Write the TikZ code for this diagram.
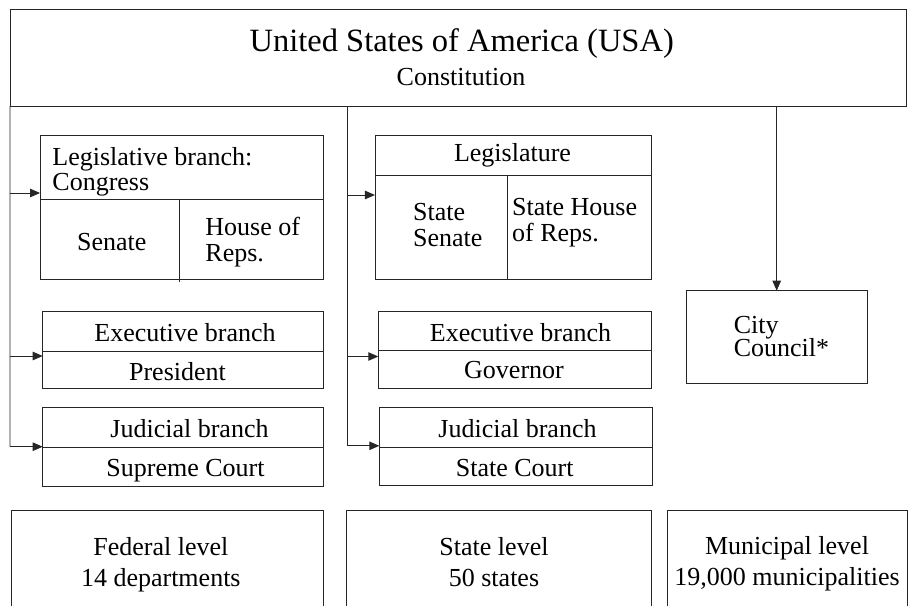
\documentclass[tikz,border=0pt]{standalone}
\usepackage{fontspec}
\setmainfont{Liberation Serif}
\usetikzlibrary{arrows.meta}
\begin{document}
\begin{tikzpicture}[x=1pt,y=-1pt,line width=0.9pt,
  box/.style={draw=black!85,rectangle,inner sep=0pt,outer sep=0pt},
  txt/.style={inner sep=0pt,anchor=base,font=\fontsize{26}{26}\selectfont},
  txtl/.style={txt,anchor=base west},
  big/.style={inner sep=0pt,anchor=base,font=\fontsize{32.5}{32.5}\selectfont},
  rule/.style={draw=black!85},
  link/.style={draw=black!85,-{Triangle[length=10pt,width=8.5pt]}}]

\useasboundingbox (0,0) rectangle (910,605);
\clip (0,0) rectangle (910,605);

% ---- boxes ----
\node[box,minimum width=896.7pt,minimum height=96.7pt] (top) at (458.3,57.7) {};
\node[box,minimum width=283.3pt,minimum height=144pt] (leg) at (181.7,207) {};
\node[box,minimum width=276.7pt,minimum height=143.3pt] (sleg) at (513.3,207.3) {};
\node[box,minimum width=280.6pt,minimum height=76.6pt] (fexe) at (183,350) {};
\node[box,minimum width=280.6pt,minimum height=78.7pt] (fjud) at (183,446.7) {};
\node[box,minimum width=273.4pt,minimum height=76.6pt] (sexe) at (515,350) {};
\node[box,minimum width=273pt,minimum height=78.4pt] (sjud) at (515.8,446.5) {};
\node[box,minimum width=181.3pt,minimum height=92.6pt] (city) at (776.7,337) {};
\node[box,minimum width=311.6pt,minimum height=109.3pt] (fed) at (167.5,565.4) {};
\node[box,minimum width=305pt,minimum height=109.3pt] (state) at (499.2,565.4) {};
\node[box,minimum width=240pt,minimum height=109.3pt] (muni) at (787.3,565.4) {};

% ---- inner dividers ----
\draw[rule] (leg.west |- 0,199) -- (leg.east |- 0,199);
\draw[rule] (179,199) -- (179,282);
\draw[rule] (sleg.west |- 0,175) -- (sleg.east |- 0,175);
\draw[rule] (507,175) -- (sleg.south -| 507,0);
\draw[rule] (fexe.west |- 0,351.7) -- (fexe.east |- 0,351.7);
\draw[rule] (fjud.west |- 0,447.5) -- (fjud.east |- 0,447.5);
\draw[rule] (sexe.west |- 0,350.7) -- (sexe.east |- 0,350.7);
\draw[rule] (sjud.west |- 0,447.7) -- (sjud.east |- 0,447.7);

% ---- texts ----
\node[big] (t1) at (461.7,51.7) {United States of America (USA)};
\node[txt] (t2) at (461,85) {Constitution};

\node[txtl] (l1) at (52,165) {Legislative branch:};
\node[txtl] (l2) at (52,190) {Congress};
\node[txt]  (l3) at (111.7,250) {Senate};
\node[txtl] (l4) at (205,235) {House of};
\node[txtl] (l5) at (205,261.7) {Reps.};

\node[txt]  (s1) at (512.5,161.7) {Legislature};
\node[txtl] (s2) at (412.7,220) {State};
\node[txtl] (s3) at (412.7,246.7) {Senate};
\node[txtl] (s4) at (511.7,215) {State House};
\node[txtl] (s5) at (511.7,241.7) {of Reps.};

\node[txt] (e1) at (185,341.7) {Executive branch};
\node[txt] (e2) at (177.5,380) {President};
\node[txt] (j1) at (189.5,437.3) {Judicial branch};
\node[txt] (j2) at (185.5,476.7) {Supreme Court};

\node[txt] (e3) at (520.5,341.7) {Executive branch};
\node[txt] (e4) at (514,378) {Governor};
\node[txt] (j3) at (517.5,437.3) {Judicial branch};
\node[txt] (j4) at (514.7,476.7) {State Court};

\node[txtl] (c1) at (733.3,333) {City};
\node[txtl] (c2) at (733.3,356.7) {Council*};

\node[txt] (b1) at (160.8,555) {Federal level};
\node[txt] (b2) at (160.8,586.7) {14 departments};
\node[txt] (b3) at (494,555) {State level};
\node[txt] (b4) at (494,586.7) {50 states};
\node[txt] (b5) at (787,554) {Municipal level};
\node[txt] (b6) at (787,585.7) {19,000 municipalities};

% ---- connectors ----
\coordinate (jL1) at (10,193);
\coordinate (jL2) at (10,356);
\coordinate (jL3) at (10,446.7);
\coordinate (jM0) at (347,106);
\coordinate (jM1) at (347,195);
\coordinate (jM2) at (347,356.5);
\coordinate (jM3) at (347,445.8);

\draw[rule] (top.south west) -- (jL3);
\draw[link] (jL1) -- (leg.west |- jL1);
\draw[link] (jL2) -- (fexe.west |- jL2);
\draw[link] (jL3) -- (fjud.west |- jL3);

\draw[rule] (jM0) -- (jM3);
\draw[link] (jM1) -- (sleg.west |- jM1);
\draw[link] (jM2) -- (sexe.west |- jM2);
\draw[link] (jM3) -- (sjud.west |- jM3);

\draw[link] (top.south -| city.north) -- (city.north);
\end{tikzpicture}
\end{document}
